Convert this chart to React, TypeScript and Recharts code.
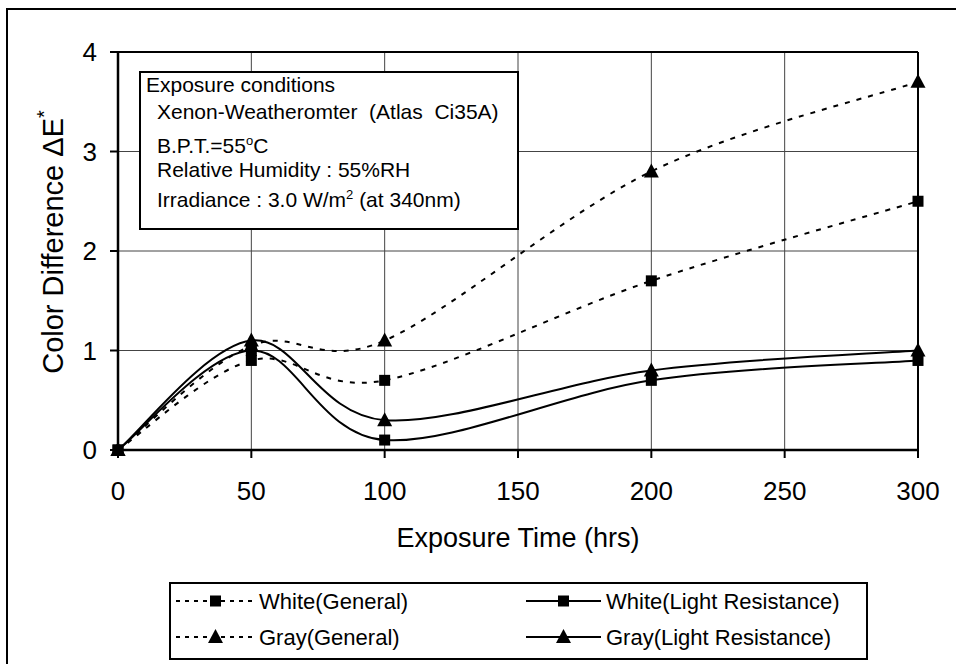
import React from 'react';
import { LineChart, Line, XAxis, YAxis, CartesianGrid, ReferenceLine, Legend } from 'recharts';

const hours = [0, 50, 100, 200, 300];
const whiteGeneral = [0, 0.9, 0.7, 1.7, 2.5];
const grayGeneral = [0, 1.05, 1.1, 2.8, 3.7];
const whiteLight = [0, 1.0, 0.1, 0.7, 0.9];
const grayLight = [0, 1.1, 0.3, 0.8, 1.0];
const xTicks = [0, 50, 100, 150, 200, 250, 300];
const yTicks = [0, 1, 2, 3, 4];

const FONT = '"Liberation Sans", Arial, Helvetica, sans-serif';

const lineSeries = [
  { key: 'whiteGeneral', name: 'White(General)', values: whiteGeneral, dashed: true, marker: 'square' },
  { key: 'grayGeneral', name: 'Gray(General)', values: grayGeneral, dashed: true, marker: 'triangle' },
  { key: 'whiteLight', name: 'White(Light Resistance)', values: whiteLight, dashed: false, marker: 'square' },
  { key: 'grayLight', name: 'Gray(Light Resistance)', values: grayLight, dashed: false, marker: 'triangle' },
];

const data = hours.map((h, i) => {
  const row: Record<string, number> = { h };
  lineSeries.forEach((s) => (row[s.key] = s.values[i]));
  return row;
});

// Excel-like smoothed line (Catmull-Rom through the points)
const smooth = (context: any) => {
  let pts: number[][] = [];
  return {
    areaStart() {},
    areaEnd() {},
    lineStart() {
      pts = [];
    },
    lineEnd() {
      if (!pts.length) return;
      context.moveTo(pts[0][0], pts[0][1]);
      for (let i = 0; i < pts.length - 1; i++) {
        const p0 = pts[i - 1] || pts[i];
        const p1 = pts[i];
        const p2 = pts[i + 1];
        const p3 = pts[i + 2] || p2;
        context.bezierCurveTo(
          p1[0] + (p2[0] - p0[0]) / 6,
          p1[1] + (p2[1] - p0[1]) / 6,
          p2[0] - (p3[0] - p1[0]) / 6,
          p2[1] - (p3[1] - p1[1]) / 6,
          p2[0],
          p2[1]
        );
      }
    },
    point(x: number, y: number) {
      pts.push([x, y]);
    },
  };
};

const Marker = ({ shape, cx, cy }: { shape: string; cx: number; cy: number }) =>
  shape === 'square' ? (
    <rect x={cx - 5.5} y={cy - 5.5} width={11} height={11} fill="#000" />
  ) : (
    <path d={`M${cx},${cy - 8} L${cx + 7.5},${cy + 6} L${cx - 7.5},${cy + 6} Z`} fill="#000" />
  );

const renderLegend = () => {
  const cols = [
    { lineFrom: 7, lineTo: 86, text: 90 },
    { lineFrom: 357, lineTo: 432, text: 437 },
  ];
  const rows = [19, 55];
  return (
    <svg width={700} height={79} style={{ display: 'block', fontFamily: FONT }}>
      <rect x={1} y={1} width={697} height={76} fill="#fff" stroke="#000" strokeWidth={2} />
      {lineSeries.map((s, i) => {
        const c = cols[Math.floor(i / 2)];
        const y = rows[i % 2];
        return (
          <g key={s.key}>
            <line
              x1={c.lineFrom}
              x2={c.lineTo}
              y1={y}
              y2={y}
              stroke="#000"
              strokeWidth={2}
              strokeDasharray={s.dashed ? '4 5' : undefined}
            />
            <Marker shape={s.marker} cx={(c.lineFrom + c.lineTo) / 2} cy={y} />
            <text x={c.text} y={y + 8} fontSize={22} fill="#000">
              {s.name}
            </text>
          </g>
        );
      })}
    </svg>
  );
};

const pre = { whiteSpace: 'pre' as const };

export default function App() {
  return (
    <div style={{ position: 'relative', width: 956, height: 664, background: '#fff', fontFamily: FONT }}>
      <style>{'body{margin:0}'}</style>
      <LineChart width={956} height={664} data={data} margin={{ top: 52, right: 38, left: 48, bottom: 154 }}>
        <CartesianGrid stroke="#444" strokeWidth={1} />
        <XAxis
          dataKey="h"
          type="number"
          domain={[0, 300]}
          ticks={xTicks}
          height={60}
          tickSize={8}
          tickMargin={24}
          axisLine={{ stroke: '#000', strokeWidth: 2.5 }}
          tickLine={{ stroke: '#000', strokeWidth: 2 }}
          tick={{ fill: '#000', fontSize: 26, fontFamily: FONT }}
          label={{
            content: () => (
              <text x={518} y={547} textAnchor="middle" fontSize={27} fill="#000" fontFamily={FONT}>
                Exposure Time (hrs)
              </text>
            ),
          }}
        />
        <YAxis
          type="number"
          domain={[0, 4]}
          ticks={yTicks}
          width={70}
          tickSize={8}
          tickMargin={13}
          axisLine={{ stroke: '#000', strokeWidth: 2.5 }}
          tickLine={{ stroke: '#000', strokeWidth: 2 }}
          tick={{ fill: '#000', fontSize: 26, fontFamily: FONT }}
          label={{
            content: () => (
              <text
                x={63}
                y={242}
                transform="rotate(-90 63 242)"
                textAnchor="middle"
                fontSize={29}
                fill="#000"
                fontFamily={FONT}
              >
                Color Difference ΔE
                <tspan fontSize={20} dy={-12}>
                  *
                </tspan>
              </text>
            ),
          }}
        />
        <ReferenceLine y={4} stroke="#000" strokeWidth={2} />
        <ReferenceLine x={300} stroke="#000" strokeWidth={2} />
        {lineSeries.map((s) => (
          <Line
            key={s.key}
            dataKey={s.key}
            name={s.name}
            type={smooth as any}
            stroke="#000"
            strokeWidth={2}
            strokeDasharray={s.dashed ? '5 7' : undefined}
            isAnimationActive={false}
            dot={(p: any) => <Marker key={`${s.key}-${p.index}`} shape={s.marker} cx={p.cx} cy={p.cy} />}
            activeDot={false}
          />
        ))}
        <Legend
          layout="horizontal"
          verticalAlign="middle"
          align="center"
          wrapperStyle={{ left: 169, top: 582, width: 700, height: 79 }}
          content={renderLegend}
        />
      </LineChart>
      <svg
        width={956}
        height={664}
        style={{ position: 'absolute', left: 0, top: 0, pointerEvents: 'none', fontFamily: FONT }}
      >
        <path d="M7,664 V9 H956" fill="none" stroke="#000" strokeWidth={2} />
        <rect x={140} y={72} width={378} height={157} fill="#fff" stroke="#000" strokeWidth={2} />
        <g fontSize={21} fill="#000">
          <text x={146} y={92} style={pre}>Exposure conditions</text>
          <text x={157} y={119} style={pre}>{'Xenon-Weatheromter  (Atlas  Ci35A)'}</text>
          <text x={157} y={153} style={pre}>
            B.P.T.=55
            <tspan fontSize={13} dy={-8}>
              o
            </tspan>
            <tspan dy={8}>C</tspan>
          </text>
          <text x={157} y={177} style={pre}>Relative Humidity : 55%RH</text>
          <text x={157} y={207} style={pre}>
            Irradiance : 3.0 W/m
            <tspan fontSize={13} dy={-8}>
              2
            </tspan>
            <tspan dy={8}>{' (at 340nm)'}</tspan>
          </text>
        </g>
      </svg>
    </div>
  );
}
